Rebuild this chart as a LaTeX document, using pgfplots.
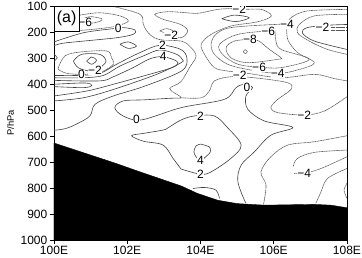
\documentclass[border=0pt]{standalone}
\usepackage{fontspec}
\setmainfont{Liberation Sans}
\usepackage{pgfplots}
\pgfplotsset{compat=1.18}
\tikzset{lab/.style={font=\fontsize{9}{10}\selectfont,fill=white,inner sep=0.2pt}}
\begin{document}
\begin{tikzpicture}[x=1pt,y=1pt]
\useasboundingbox (0,0) rectangle (271.5,193.5);
\begin{axis}[
  at={(40.5pt,13.5pt)},anchor=south west,scale only axis,
  width=219.75pt,height=175.5pt,
  xmin=100,xmax=108,ymin=100,ymax=1000,y dir=reverse,
  xtick={100,102,104,106,108},xticklabels={100E,102E,104E,106E,108E},
  ytick={100,200,...,1000},
  tick align=outside,major tick length=3pt,
  tick pos=left,
  axis line style={line width=0.7pt,black},
  every tick/.style={line width=0.6pt,black},
  tick label style={font=\fontsize{9}{10}\selectfont},
  /pgf/number format/assume math mode=true,
  /pgf/number format/1000 sep={},
  xticklabel style={yshift=2pt},
  yticklabel style={xshift=1.5pt},
  ylabel={P/hPa},
  ylabel style={font=\fontsize{7}{8}\selectfont,at={(axis description cs:-0.148,0.5)},anchor=center},
  cpos/.style={smooth,tension=0.55,line width=0.45pt,black!75},
  cneg/.style={smooth,tension=0.55,line width=0.45pt,black!65,dash pattern=on 0.9pt off 0.35pt},
]
% positive contours
\addplot[cpos] coordinates {(105.24,859)(105.02,776)(105.11,712)(105.47,661)(105.92,597)(106.52,567)(105.74,542)(105.29,497)(105.24,446)(105.42,414)(105.2,401)(104.97,414)(104.65,459)(103.47,491)(102.39,538)(101.89,523)(101.66,491)(101.89,465)(102.44,461)(103.16,455)(103.46,454)};
\addplot[cpos] coordinates {(103.47,727)(103.25,686)(102.98,635)(102.44,620)(102.12,599)(102.44,590)(102.98,577)(103.12,568)(103.46,539)(103.83,523)(104.38,523)(104.74,568)(105.11,635)(104.83,686)(104.29,738)(104.0,747)(103.47,727)};
\addplot[cpos] coordinates {(104.0,631)(104.24,642)(104.27,661)(104.11,684)(104.0,695)(103.88,680)(103.82,661)(103.88,638)(104.0,631)};
\addplot[cpos] coordinates {(103.79,802)(104.11,798)(104.42,808)(104.52,840)};
\addplot[cpos] coordinates {(100,238)(100.8,203)(101.62,187)(101.89,183)(102.21,192)(102.16,209)(101.71,222)(100.8,235)(100.25,243)(100,252)};
\addplot[cpos] coordinates {(101.8,247)(102.03,238)(102.25,254)(102.03,263)(101.8,247)};
\addplot[cpos] coordinates {(100.53,312)(100.75,286)(101.25,286)(101.42,312)(101.25,337)(100.98,350)(100.66,337)(100.53,312)};
\addplot[cpos] coordinates {(100.89,312)(101.03,296)(101.16,309)(101.03,324)(100.89,312)};
\addplot[cpos] coordinates {(100,286)(100.09,299)(100,312)};
\addplot[cpos] coordinates {(100,367)(100.66,367)(101.25,359)(101.71,324)(102.35,279)(102.89,251)(103.46,267)(103.63,302)(103.48,350)(102.44,410)(101.62,446)(101.12,478)(100.98,523)(100.6,555)(100.3,572)(100,578)};
\addplot[cpos] coordinates {(100,376)(100.8,376)(101.35,367)(101.8,331)(102.44,292)(102.89,269)(103.35,286)(103.5,305)(103.47,318)(102.8,363)(101.62,421)(100.8,453)(100,465)};
\addplot[cpos] coordinates {(100,386)(101.25,388)(101.62,372)(102.16,337)(102.62,303)(102.98,295)(103.35,312)(103.35,327)(103.07,344)(101.62,401)(100.89,427)(100,446)};
\addplot[cpos] coordinates {(100,401)(100.85,396)(101.03,406)(100.8,414)(100,410)};
\addplot[cpos] coordinates {(104.58,149)(104.92,135)(105.33,145)(104.97,160)(104.58,149)};
\addplot[cpos] coordinates {(108,171)(107.47,174)(106.92,183)(106.78,203)(107.11,235)(108,267)};
% negative contours
\addplot[cneg] coordinates {(108,449)(107.38,504)(106.83,519)(106.11,510)(105.92,491)(106.11,459)(106.47,421)(106.38,395)(105.47,376)(104.83,372)(104.38,388)(104.24,427)(104.02,453)(103.47,453)(103.46,449)(103.16,418)(103.46,392)(103.7,337)(103.88,292)(103.7,254)(103.47,235)(102.85,228)(102.57,203)(102.44,171)(102.35,132)(101.66,103)};
\addplot[cneg] coordinates {(100.71,154)(100.98,141)(101.3,149)(101.25,159)(100.98,167)(100.75,164)(100.71,154)};
\addplot[cneg] coordinates {(100.71,135)(101.25,126)(101.8,138)(102.03,158)(101.71,177)(101.25,187)(100.71,194)};
\addplot[cneg] coordinates {(102.89,196)(103.07,187)(103.25,196)(103.12,206)(102.89,196)};
\addplot[cneg] coordinates {(103.3,220)(103.47,222)(103.56,216)(103.65,194)(103.46,171)(102.98,151)(102.75,132)(103.07,122)(103.47,124)(103.92,128)(104.47,113)(104.83,110)(105.11,113)(105.65,113)(105.92,132)(105.88,145)(105.52,162)(104.83,177)(104.29,209)(104.02,247)(104.11,286)(104.38,337)(104.74,350)(105.29,359)(106.2,376)(107.11,363)(107.65,379)(108,388)};
\addplot[cneg] coordinates {(106.36,171)(106.02,171)(104.83,183)(104.42,209)(104.29,247)(104.38,286)(104.74,324)(105.29,344)(106.11,359)(106.7,344)(107.11,318)(106.65,279)(106.38,228)(106.36,171)};
\addplot[cneg] coordinates {(105.85,196)(106.02,192)(106.06,235)(106.2,267)(106.97,305)(106.2,337)(105.6,335)(105.02,324)(104.6,286)(104.52,247)(105.02,209)(105.85,196)};
\addplot[cneg] coordinates {(105.35,228)(104.92,235)(104.7,260)(104.83,299)(105.29,318)(106.11,305)(106.2,299)(105.88,267)(105.6,235)(105.35,228)};
\addplot[cneg] coordinates {(105.17,276)(105.22,268)(105.28,276)(105.22,283)(105.17,276)};
\addplot[cneg] coordinates {(108,113)(106.92,119)(106.47,145)(106.4,171)};
\addplot[cneg] coordinates {(108,132)(107.11,138)(106.7,171)(106.65,203)(106.97,235)(107.47,267)(108,286)};
\addplot[cneg] coordinates {(108,183)(107.4,183)};
\addplot[cneg] coordinates {(108,195)(107.4,195)};
\addplot[cneg] coordinates {(108,599)(107.11,622)(106.38,635)(105.92,680)(105.65,738)(105.79,789)(105.72,863)};
\addplot[cneg] coordinates {(108,654)(107.11,663)(106.65,686)(106.53,718)};
\addplot[cneg] coordinates {(106.56,744)(106.83,744)(107.29,725)(108,680)};
\addplot[cneg] coordinates {(108,725)(107.47,763)(107.29,815)(107.15,859)};
\addplot[cneg] coordinates {(108,782)(107.92,808)(108,840)};
\addplot[cneg] coordinates {(100.12,337)(100.3,292)(100.71,277)(101.44,273)(101.57,299)(101.62,324)(101.35,350)(101.07,359)(100.75,363)(100.35,359)(100.12,344)(100.12,337)};
% terrain
\addplot[fill=black,draw=black,line width=0.3pt] coordinates {(100,627)(101.62,702)(102.35,738)(103.47,792)(103.92,821)(104.47,847)(105.0,860)(105.74,866)(107.1,863)(107.56,866)(108,876)(108,1000)(100,1000)(100,627)};
% contour labels
\node[lab] at (axis cs:100.85,162) {−6};
\node[lab] at (axis cs:101.75,187) {0};
\node[lab] at (axis cs:100.75,363) {0};
\node[lab] at (axis cs:101.12,347) {−2};
\node[lab] at (axis cs:103.2,212) {−2};
\node[lab] at (axis cs:102.96,251) {2};
\node[lab] at (axis cs:102.98,292) {4};
\node[lab] at (axis cs:105.06,113) {−2};
\node[lab] at (axis cs:106.36,171) {−4};
\node[lab] at (axis cs:107.33,183) {−2};
\node[lab] at (axis cs:105.85,196) {−6};
\node[lab] at (axis cs:105.35,228) {−8};
\node[lab] at (axis cs:105.6,335) {−6};
\node[lab] at (axis cs:106.11,359) {−4};
\node[lab] at (axis cs:105.07,366) {−2};
\node[lab] at (axis cs:105.27,414) {0};
\node[lab] at (axis cs:102.25,536) {0};
\node[lab] at (axis cs:104.0,523) {2};
\node[lab] at (axis cs:106.83,519) {−2};
\node[lab] at (axis cs:104.0,695) {4};
\node[lab] at (axis cs:104.0,747) {2};
\node[lab] at (axis cs:106.83,744) {−4};
\draw[fill=white,draw=black,line width=0.4pt] (axis cs:100,100) rectangle (axis cs:100.69,197);
\node[font=\fontsize{12}{13}\selectfont] at (axis cs:100.345,148) {(a)};
\end{axis}
\end{tikzpicture}
\end{document}
